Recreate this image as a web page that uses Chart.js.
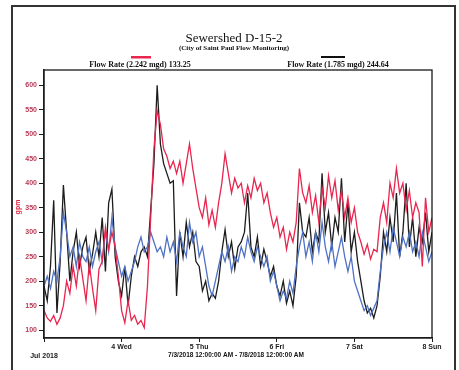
<!DOCTYPE html>
<html><head><meta charset="utf-8">
<script src="https://cdn.jsdelivr.net/npm/chart.js@4.4.0/dist/chart.umd.min.js"></script>
<style>
html,body{margin:0;padding:0;background:#fff;}
#wrap{position:relative;width:459px;height:370px;overflow:hidden;background:#fff;}
#frame{position:absolute;left:11px;top:5px;width:445px;height:420px;border:2px solid #333;box-sizing:border-box;}
canvas{position:absolute;left:0;top:0;}
</style></head><body>
<div id="wrap"><div id="frame"></div><canvas id="c" width="459" height="370"></canvas></div>
<script>
// ---- data (hourly readings, 7/3/2018 00:00 .. 7/8/2018 00:00) ----
const dayTickLabels = ['Jul 2018', '4 Wed', '5 Thu', '6 Fri', '7 Sat', '8 Sun'];
const dayTickHours = [0, 24, 48, 72, 96, 120];
const yTicks = [100, 150, 200, 250, 300, 350, 400, 450, 500, 550, 600];

const redLabel = 'Flow Rate (2.242 mgd) 133.25';
const blackLabel = 'Flow Rate (1.785 mgd) 244.64';

const redFlow = [
  140, 125, 118, 130, 112, 125, 150,
  200, 175, 230, 190, 250, 205, 160, 235, 185, 140, 225,
  240, 310, 265, 300, 270,
  210, 140, 115, 160, 120, 130, 112, 120, 105,
  190, 330, 470, 548,
  520, 470, 455, 430, 445, 420, 445, 400, 440, 480, 430, 390,
  350, 330, 370, 315, 345, 310, 360,
  400, 460, 420, 380, 410, 390,
  400, 360, 395, 370, 410, 385, 400, 360, 380, 340, 310, 330,
  290, 310, 265, 300, 280, 320,
  430, 380,
  360, 395, 340, 375, 320, 390, 350, 415, 370, 405, 345, 385, 330, 370, 320, 350, 300,
  280, 255, 275, 245, 265, 260,
  330, 360, 320, 400, 370, 430, 380, 400, 345, 385, 330, 360, 340, 230, 370, 300, 330
];
const blackFlow = [
  190, 160, 230, 365, 135, 240, 396, 300, 200, 260, 300,
  230, 270, 290, 220, 255, 300, 250, 330, 220, 360, 388,
  250, 200, 170, 230, 150, 210, 250, 230, 260, 270, 250, 345, 440, 600,
  480, 440, 420, 400, 405, 170, 300, 250, 320, 270, 300, 240,
  230, 180, 200, 160, 175, 165, 200,
  260, 305, 250, 280, 225, 270,
  280, 300, 380, 270, 250, 290, 230, 265, 240, 210, 230,
  190, 170, 200, 155, 180, 150, 210,
  360, 300,
  290, 330, 260, 300, 280, 420, 300, 340, 270, 330, 300, 410, 280, 360, 260, 300, 240,
  200, 160, 135, 145, 125, 150,
  210, 300, 260, 330, 280, 380, 250, 300, 400, 270, 330, 250, 310, 280, 340, 260, 300
];
const blueFlow = [
  190, 210, 185, 220, 200, 250, 340, 300, 250, 270,
  230, 280, 250, 240, 270, 230, 260, 280, 240, 300,
  260, 330, 270, 240, 210, 230, 200, 220, 240, 270,
  290, 260, 270, 300, 280, 260, 270, 250, 290, 260,
  280, 240, 300, 270, 250, 320, 280, 300, 250, 270,
  230, 190, 170, 200, 230, 260, 240, 270, 220, 250,
  240, 270, 250, 290, 260, 240, 270, 250, 230, 250,
  200, 220, 190, 160, 180, 165, 200, 175, 230, 270,
  300, 250, 280, 240, 300, 260, 320, 270, 240, 280,
  230, 260, 290, 250, 220, 250, 200, 180, 160, 140,
  150, 130, 145, 160, 220, 270, 300, 260, 310, 280,
  250, 290, 270, 300, 260, 280, 250, 300, 270, 240,
  260
];

const toPoints = arr => arr.map((v, i) => ({x: i, y: v}));

const decor = {
  id: 'decor',
  afterDraw(chart) {
    const {ctx, chartArea: a} = chart;
    ctx.save();
    ctx.strokeStyle = '#1a1a1a';
    ctx.lineWidth = 1.3;
    ctx.strokeRect(a.left, a.top, a.right - a.left, a.bottom - a.top);

    ctx.fillStyle = '#111';
    ctx.textAlign = 'center';
    ctx.textBaseline = 'alphabetic';
    ctx.font = '13px "Liberation Serif"';
    ctx.fillText('Sewershed D-15-2', 234, 42);
    ctx.font = 'bold 7px "Liberation Serif"';
    ctx.fillText('(City of Saint Paul Flow Monitoring)', 234, 50);

    // legend
    ctx.fillStyle = '#e8264f';
    ctx.fillRect(131, 56, 20, 2.5);
    ctx.fillStyle = '#111';
    ctx.fillRect(321, 56, 24, 2);
    ctx.font = 'bold 8px "Liberation Serif"';
    ctx.fillText(redLabel, 140, 67);
    ctx.fillText(blackLabel, 338, 67);

    // y axis title
    ctx.save();
    ctx.translate(20, 207);
    ctx.rotate(-Math.PI / 2);
    ctx.fillStyle = '#e02040';
    ctx.font = 'bold 7px "Liberation Sans"';
    ctx.fillText('gpm', 0, 0);
    ctx.restore();

    // date range
    ctx.fillStyle = '#111';
    ctx.font = 'bold 6.5px "Liberation Sans"';
    ctx.fillText('7/3/2018 12:00:00 AM - 7/8/2018 12:00:00 AM', 236, 357);
    ctx.restore();
  }
};

new Chart(document.getElementById('c'), {
  type: 'line',
  data: {
    datasets: [
      {label: redLabel, data: toPoints(redFlow), borderColor: '#e8264f', borderWidth: 1.3, pointRadius: 0, tension: 0, order: 0},
      {label: 'Flow Rate', data: toPoints(blueFlow), borderColor: '#4f72c4', borderWidth: 1.3, pointRadius: 0, tension: 0, order: 1},
      {label: blackLabel, data: toPoints(blackFlow), borderColor: '#1c1c1c', borderWidth: 1.3, pointRadius: 0, tension: 0, order: 2}
    ]
  },
  options: {
    responsive: false,
    devicePixelRatio: 1,
    animation: false,
    layout: {padding: {left: 0, right: 27, top: 70, bottom: 0}},
    plugins: {legend: {display: false}, tooltip: {enabled: false}, title: {display: false}},
    scales: {
      x: {
        type: 'linear', min: 0, max: 120,
        afterBuildTicks: s => { s.ticks = dayTickHours.map(v => ({value: v})); },
        afterFit: s => { s.height = 32; },
        ticks: {
          autoSkip: false, maxRotation: 0, padding: 1, color: '#1a1a1a',
          font: {family: 'Liberation Sans', size: 7, weight: 'bold'},
          callback: v => { const i = dayTickHours.indexOf(v); return i === 0 ? ['', dayTickLabels[0]] : dayTickLabels[i]; }
        },
        grid: {drawOnChartArea: false, tickLength: 4, color: '#1a1a1a'},
        border: {display: true, color: '#1a1a1a', width: 1.3}
      },
      y: {
        min: 84, max: 631,
        afterBuildTicks: s => { s.ticks = yTicks.map(v => ({value: v})); },
        afterFit: s => { s.width = 44; },
        ticks: {
          padding: 2, color: '#b83a58',
          font: {family: 'Liberation Sans', size: 7, weight: 'bold'}
        },
        grid: {drawOnChartArea: false, tickLength: 5, color: '#1a1a1a'},
        border: {display: true, color: '#1a1a1a', width: 1.3}
      }
    }
  },
  plugins: [decor]
});
</script>
</body></html>
